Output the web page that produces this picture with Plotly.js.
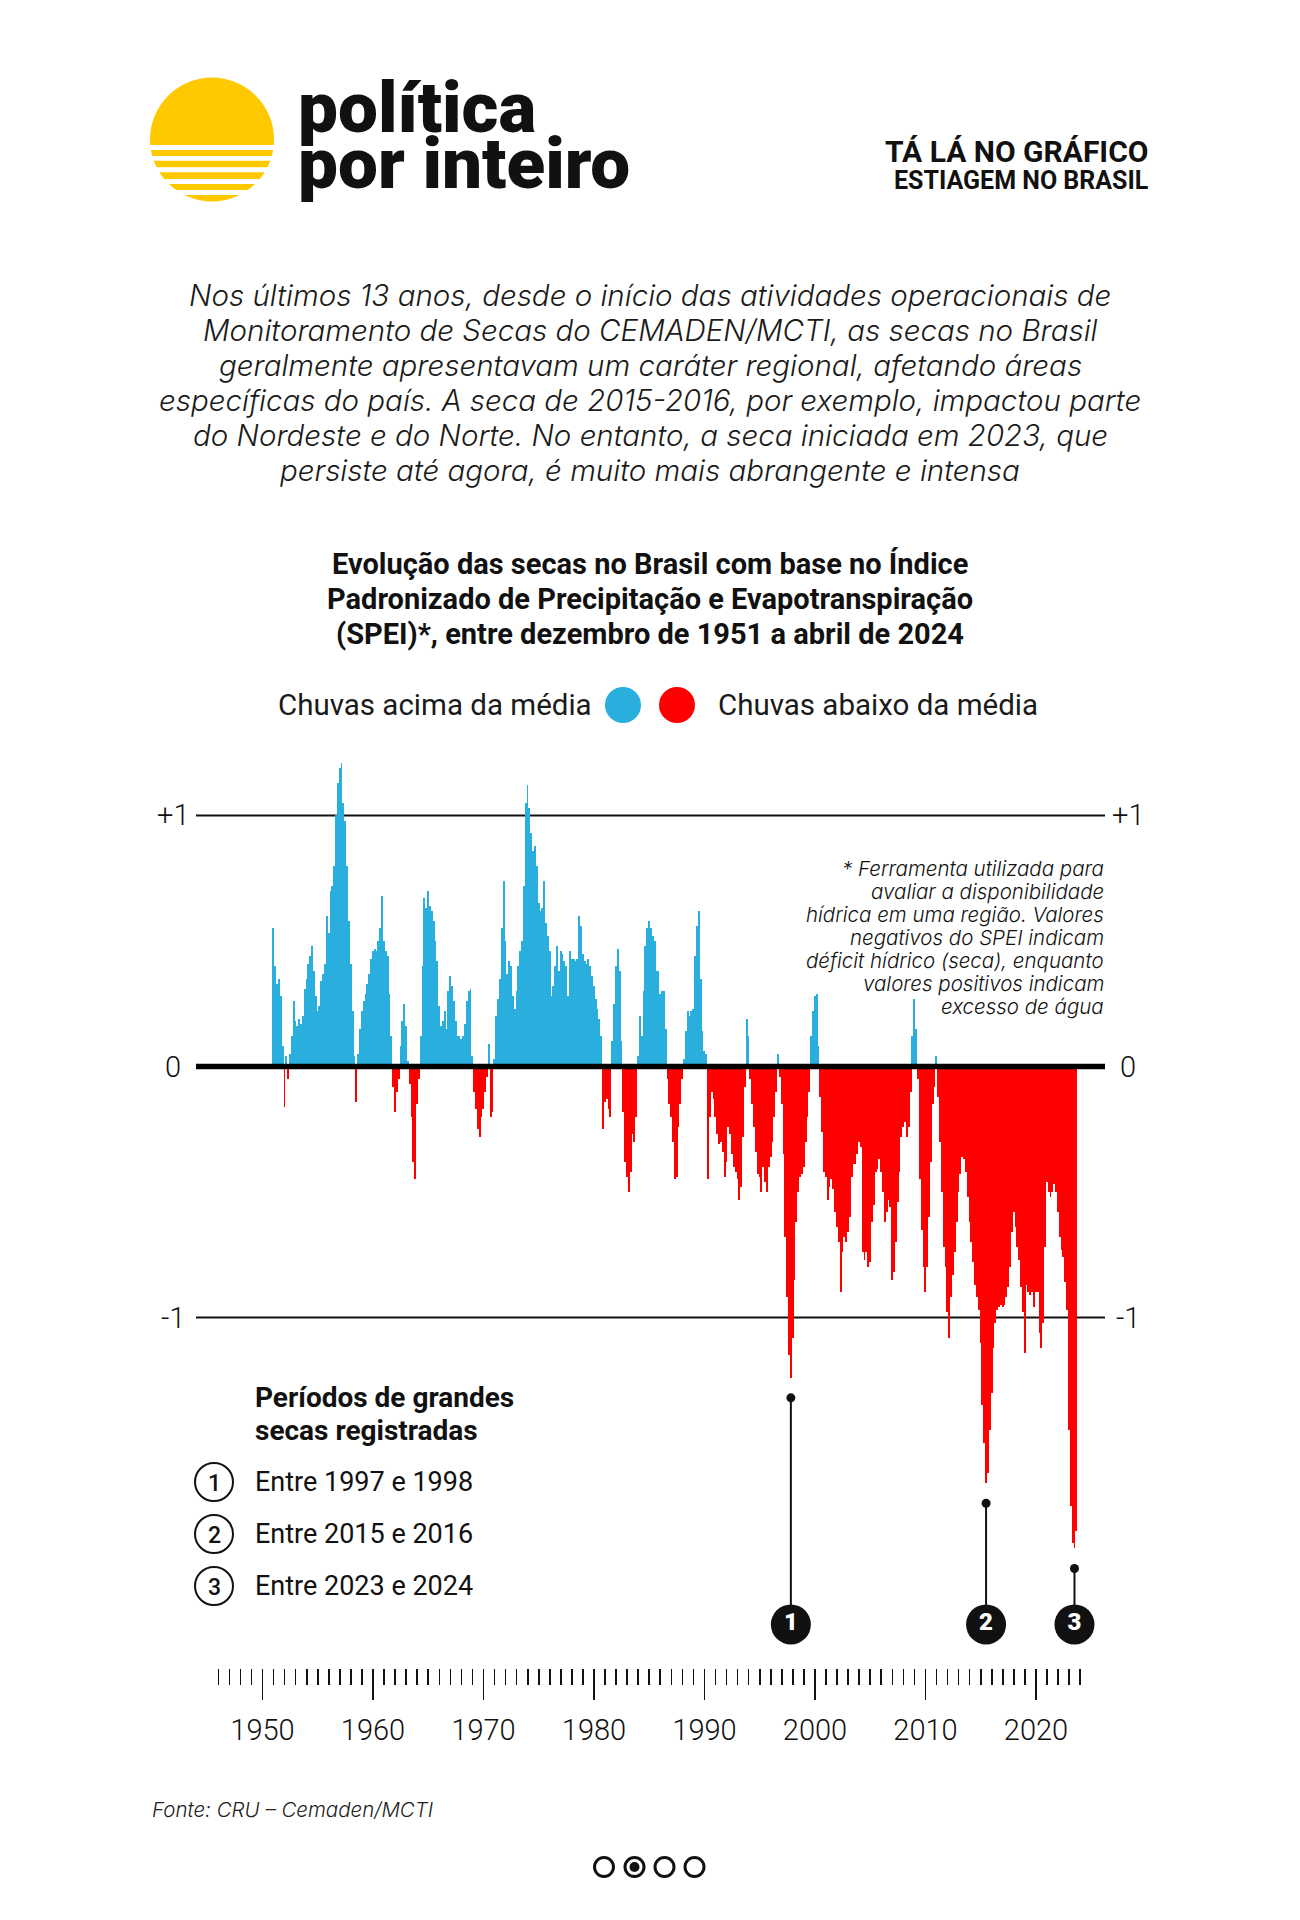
<!DOCTYPE html>
<html>
<head>
<meta charset="utf-8">
<script src="https://cdn.plot.ly/plotly-3.0.1.min.js"></script>
<style>
html,body{margin:0;padding:0;background:#fff;}
#chart{width:1300px;height:1920px;}
</style>
</head>
<body>
<div id="chart"></div>
<script>
// ---------- DATA (SPEI Brasil, ~bimonthly steps) ----------
const speiPart1 = [0.55,0.40,0.33,0.35,0.28,0.08,-0.16,0.04,-0.05,0.05,0.12,0.26,
  0.18,0.16,0.19,0.17,0.20,0.31,0.35,0.41,0.44,0.48,0.38,0.28,
  0.22,0.24,0.34,0.37,0.41,0.60,0.53,0.70,0.72,0.80,1.00,1.13,
  1.19,1.21,1.05,0.98,0.80,0.58,0.41,0.22,0.04,-0.14,0.05,0.15,
  0.22,0.26,0.29,0.33,0.37,0.43,0.46,0.47,0.46,0.50,0.55,0.68];
const speiPart2 = [0.50,0.46,0.44,0.29,0.12,-0.08,-0.18,-0.10,-0.05,0.08,0.18,0.25,
  0.16,0.02,-0.07,-0.20,-0.38,-0.45,-0.15,-0.05,0.12,0.40,0.67,0.63,
  0.70,0.64,0.62,0.58,0.50,0.42,0.24,0.16,0.18,0.22,0.15,0.30,
  0.36,0.32,0.26,0.18,0.12,0.12,0.11,0.12,0.17,0.26,0.30,0.31,
  0.04,-0.10,-0.17,-0.25,-0.28,-0.20,-0.17,-0.10,-0.04,0.09,-0.20,-0.18];
const speiPart3 = [0.03,0.20,0.27,0.35,0.55,0.74,0.50,0.37,0.42,0.40,0.28,0.23,
  0.30,0.40,0.46,0.50,0.72,1.05,1.12,1.03,0.93,0.86,0.88,0.80,
  0.65,0.62,0.63,0.74,0.57,0.52,0.46,0.28,0.32,0.40,0.48,0.38,
  0.46,0.45,0.42,0.40,0.28,0.46,0.43,0.43,0.42,0.43,0.60,0.56,
  0.45,0.42,0.41,0.43,0.40,0.36,0.32,0.27,0.23,0.19,0.12,-0.25];
const speiPart4 = [-0.14,-0.13,-0.17,-0.20,0.10,0.25,0.40,0.47,0.38,0.10,-0.18,-0.38,
  -0.44,-0.50,-0.42,-0.27,-0.30,-0.20,0.04,0.20,0.12,0.30,0.48,0.55,
  0.58,0.55,0.52,0.50,0.38,0.38,0.29,0.30,0.30,0.15,-0.05,-0.15,
  -0.20,-0.30,-0.45,-0.44,-0.24,-0.15,-0.05,0.03,0.14,0.22,0.20,0.22,
  0.23,0.44,0.56,0.62,0.35,0.14,0.06,0.05,-0.45,-0.20,-0.10,-0.13];
const speiPart5 = [-0.20,-0.27,-0.31,-0.30,-0.34,-0.44,-0.38,-0.24,-0.27,-0.35,-0.40,-0.42,
  -0.45,-0.53,-0.48,-0.28,-0.08,0.19,0.12,-0.05,-0.15,-0.24,-0.34,-0.43,
  -0.44,-0.50,-0.40,-0.46,-0.50,-0.40,-0.36,-0.30,-0.20,-0.10,0.05,-0.04,
  -0.15,-0.35,-0.68,-0.92,-1.15,-1.24,-1.08,-0.85,-0.62,-0.50,-0.44,-0.43,
  -0.40,-0.30,-0.20,-0.10,0.12,0.22,0.28,0.29,0.08,-0.12,-0.26,-0.42];
const speiPart6 = [-0.44,-0.53,-0.48,-0.45,-0.49,-0.58,-0.64,-0.70,-0.90,-0.74,-0.68,-0.70,
  -0.66,-0.60,-0.44,-0.39,-0.39,-0.35,-0.30,-0.32,-0.74,-0.77,-0.74,-0.80,
  -0.78,-0.62,-0.55,-0.42,-0.41,-0.37,-0.42,-0.50,-0.62,-0.58,-0.53,-0.56,
  -0.85,-0.82,-0.70,-0.54,-0.42,-0.28,-0.24,-0.22,-0.28,-0.24,-0.10,0.12,
  0.27,0.15,-0.05,-0.45,-0.65,-0.80,-0.90,-0.80,-0.60,-0.38,-0.15,-0.08];
const speiPart7 = [0.04,-0.12,-0.30,-0.50,-0.72,-0.80,-0.98,-1.08,-0.92,-0.83,-0.74,-0.62,
  -0.50,-0.43,-0.36,-0.37,-0.42,-0.52,-0.62,-0.70,-0.78,-0.87,-0.92,-0.97,
  -1.10,-1.35,-1.50,-1.66,-1.62,-1.45,-1.30,-1.12,-1.02,-0.97,-0.96,-0.95,
  -0.96,-0.95,-0.92,-0.88,-0.80,-0.66,-0.58,-0.64,-0.72,-0.77,-0.88,-0.98,
  -1.14,-0.87,-0.90,-0.91,-0.90,-0.96,-0.90,-0.90,-1.06,-1.12,-1.02,-0.72];
const speiPart8 = [-0.46,-0.50,-0.52,-0.50,-0.47,-0.50,-0.58,-0.68,-0.73,-0.76,-0.86,-0.97,
  -1.45,-1.75,-1.90,-1.92,-1.85];

const decadeTicks = [1950,1960,1970,1980,1990,2000,2010,2020];
const decadeLabels = ['1950','1960','1970','1980','1990','2000','2010','2020'];
const speiTicks = [-1,0,1];
const speiTickLabels = ['-1','0','+1'];
const legendLabels = ['Chuvas acima da média','Chuvas abaixo da média'];
const droughtLabels = ['1','2','3'];
const droughtPeriods = ['Entre 1997 e 1998','Entre 2015 e 2016','Entre 2023 e 2024'];
const droughtWindows = [[1996.5,1999],[2014,2017],[2022,2024.5]];

// ---------- LAYOUT HELPERS ----------
const W = 1300, H = 1920;
const FONT = 'Roboto, "Liberation Sans", Arial, sans-serif';
const FONT_WIDE = 'Inter, Roboto, "Liberation Sans", sans-serif';
const BLUE = '#2AAEDE', RED = '#FF0000', YELLOW = '#FFC900', INK = '#111111';
const firstBarStart = 1950.9, barStep = 1/6;

const spei = [].concat(speiPart1,speiPart2,speiPart3,speiPart4,speiPart5,speiPart6,speiPart7,speiPart8);
const xs = spei.map((v,i) => firstBarStart + (i+0.5)*barStep);
const colors = spei.map(v => v >= 0 ? BLUE : RED);

const px = x => x / W;
const py = y => 1 - y / H;

function ann(text, x, y, size, o) {
  o = o || {};
  return {xref:'paper', yref:'paper', x:px(x), y:py(y), text:text, showarrow:false,
    xanchor:o.xanchor || 'left', yanchor:'middle',
    font:{family:o.family || FONT, size:size, color:o.color || INK, weight:o.weight || 400, style:o.style || 'normal'}};
}
function circ(cx, cy, r, o) {
  o = o || {};
  return {type:'circle', xref:'paper', yref:'paper', layer:'above',
    x0:px(cx-r), x1:px(cx+r), y0:py(cy+r), y1:py(cy-r),
    fillcolor:o.fill || 'rgba(0,0,0,0)', line:{color:o.line || INK, width:o.lw === undefined ? 0 : o.lw}};
}
function rect(x0, y0, x1, y1, fill) {
  return {type:'rect', xref:'paper', yref:'paper', layer:'above',
    x0:px(x0), x1:px(x1), y0:py(y1), y1:py(y0), fillcolor:fill, line:{width:0}};
}

// ---------- TRACES ----------
const bars = {type:'bar', x:xs, y:spei, width:barStep*1.02, marker:{color:colors, line:{width:0}},
  hoverinfo:'skip', showlegend:false};

const callX = [], callDotY = [];
droughtWindows.forEach(w => {
  let best = -1;
  xs.forEach((x,i) => { if (x >= w[0] && x <= w[1] && (best < 0 || spei[i] < spei[best])) best = i; });
  callX.push(xs[best]);
  callDotY.push(spei[best] - 0.08);
});
const CIRCLE_Y = -2.223, LINE_END = -2.147;
const lineX = [], lineY = [];
callX.forEach((x,i) => { lineX.push(x, x, null); lineY.push(callDotY[i], LINE_END, null); });

const callLines = {type:'scatter', mode:'lines', x:lineX, y:lineY, line:{color:INK, width:2},
  cliponaxis:false, hoverinfo:'skip', showlegend:false};
const callDots = {type:'scatter', mode:'markers', x:callX, y:callDotY, marker:{color:INK, size:9},
  cliponaxis:false, hoverinfo:'skip', showlegend:false};
const callBadges = {type:'scatter', mode:'markers+text', x:callX, y:callX.map(() => CIRCLE_Y),
  text:droughtLabels, textposition:'middle center', cliponaxis:false,
  textfont:{family:FONT, size:24, color:'#ffffff', weight:900},
  marker:{color:INK, size:40, line:{width:0}}, hoverinfo:'skip', showlegend:false};

// ---------- AXES ----------
const Y_RANGE = [-2.3964, 1.241];
const yDomain = [1 - 1668/H, 1 - 755/H];
const tickFont = {family:FONT, size:29, color:INK, weight:300};

const layout = {
  width:W, height:H, margin:{l:0,r:0,t:0,b:0},
  paper_bgcolor:'#ffffff', plot_bgcolor:'#ffffff',
  bargap:0, showlegend:false,
  xaxis:{domain:[212.8/W, 1085.7/W], range:[1945.5, 2024.5], anchor:'y',
    tickmode:'array', tickvals:decadeTicks, ticktext:decadeLabels,
    ticks:'outside', ticklen:31, tickwidth:1.6, tickcolor:INK, ticklabelstandoff:5,
    minor:{tickmode:'linear', tick0:1950, dtick:1, ticks:'outside', ticklen:16, tickwidth:1.6, tickcolor:INK, showgrid:false},
    showgrid:false, zeroline:false, showline:false, tickfont:tickFont, fixedrange:true},
  yaxis:{domain:yDomain, range:Y_RANGE, anchor:'free', position:196/W, side:'left',
    tickmode:'array', tickvals:speiTicks, ticks:'', showticklabels:false,
    showgrid:false, zeroline:false, showline:false, fixedrange:true},
  shapes:[], annotations:[]
};

// reference lines
layout.shapes.push({type:'line', xref:'paper', yref:'y', x0:px(196), x1:px(1105), y0:1, y1:1, line:{color:INK, width:2}, layer:'below'});
layout.shapes.push({type:'line', xref:'paper', yref:'y', x0:px(196), x1:px(1105), y0:-1, y1:-1, line:{color:INK, width:2}, layer:'below'});
layout.shapes.push({type:'line', xref:'paper', yref:'y', x0:px(196), x1:px(1105), y0:0, y1:0, line:{color:'#000', width:5.5}, layer:'above'});

// logo (sun with stripes)
layout.shapes.push(circ(212, 139.5, 62, {fill:YELLOW}));
[[145,150],[156,160.7],[167.3,172.3],[179,184],[190,195]].forEach(b => layout.shapes.push(rect(140, b[0], 285, b[1], '#ffffff')));

// legend dots
layout.shapes.push(circ(623, 705, 18, {fill:BLUE}));
layout.shapes.push(circ(677, 705, 18, {fill:RED}));

// numbered outline circles (left list)
[1482, 1534, 1586].forEach(y => layout.shapes.push(circ(214, y, 19, {fill:'#ffffff', lw:2})));

// pagination dots
[604, 634.5, 664.5, 694.5].forEach(x => layout.shapes.push(circ(x, 1867, 9.5, {lw:3})));
layout.shapes.push(circ(634.5, 1867, 5, {fill:INK}));

// ---------- TEXT ----------
const A = layout.annotations;

// y-axis labels on both sides, placed on the y scale
speiTicks.forEach((v,i) => {
  [173, 1128].forEach(xc => A.push({xref:'paper', yref:'y', x:px(xc), y:v, text:speiTickLabels[i],
    showarrow:false, xanchor:'center', yanchor:'middle', font:tickFont}));
});

A.push(ann('política', 296, 107, 71, {weight:900}));
A.push(ann('por inteiro', 296, 163, 71, {weight:900}));
A.push(ann('TÁ LÁ NO GRÁFICO', 1150, 152, 30, {xanchor:'right', weight:700}));
A.push(ann('ESTIAGEM NO BRASIL', 1151, 180, 25, {xanchor:'right', weight:700}));

const para = [
  'Nos últimos 13 anos, desde o início das atividades operacionais de',
  'Monitoramento de Secas do CEMADEN/MCTI, as secas no Brasil',
  'geralmente apresentavam um caráter regional, afetando áreas',
  'específicas do país. A seca de 2015-2016, por exemplo, impactou parte',
  'do Nordeste e do Norte. No entanto, a seca iniciada em 2023, que',
  'persiste até agora, é muito mais abrangente e intensa'];
para.forEach((t,i) => A.push(ann(t, 650, 295 + i*35, 29.5, {xanchor:'center', style:'italic', weight:300, color:'#1a1a1a', family:FONT_WIDE})));

const title = [
  'Evolução das secas no Brasil com base no Índice',
  'Padronizado de Precipitação e Evapotranspiração',
  '(SPEI)*, entre dezembro de 1951 a abril de 2024'];
title.forEach((t,i) => A.push(ann(t, 650, 564 + i*35, 29, {xanchor:'center', weight:700})));

A.push(ann(legendLabels[0], 594, 705, 29.5, {xanchor:'right', color:'#1a1a1a'}));
A.push(ann(legendLabels[1], 716, 705, 29.5, {color:'#1a1a1a'}));

const note = ['* Ferramenta utilizada para','avaliar a disponibilidade','hídrica em uma região. Valores',
  'negativos do SPEI indicam','déficit hídrico (seca), enquanto','valores positivos indicam','excesso de água'];
note.forEach((t,i) => A.push(ann(t, 1106, 868 + i*23, 20.5, {xanchor:'right', style:'italic', weight:300, family:FONT_WIDE})));

A.push(ann('Períodos de grandes', 253, 1397, 28, {weight:700}));
A.push(ann('secas registradas', 253, 1430, 28, {weight:700}));
droughtPeriods.forEach((t,i) => {
  const y = [1482, 1534, 1586][i];
  A.push(ann(t, 253, y, 27, {weight:400}));
  A.push(ann(droughtLabels[i], 214, y + 1, 23, {xanchor:'center', weight:500}));
});

A.push(ann('Fonte: CRU – Cemaden/MCTI', 150, 1809, 20.5, {style:'italic', weight:300, color:'#222', family:FONT_WIDE}));

Plotly.newPlot('chart', [bars, callLines, callDots, callBadges], layout, {displayModeBar:false, staticPlot:true});
</script>
</body>
</html>
